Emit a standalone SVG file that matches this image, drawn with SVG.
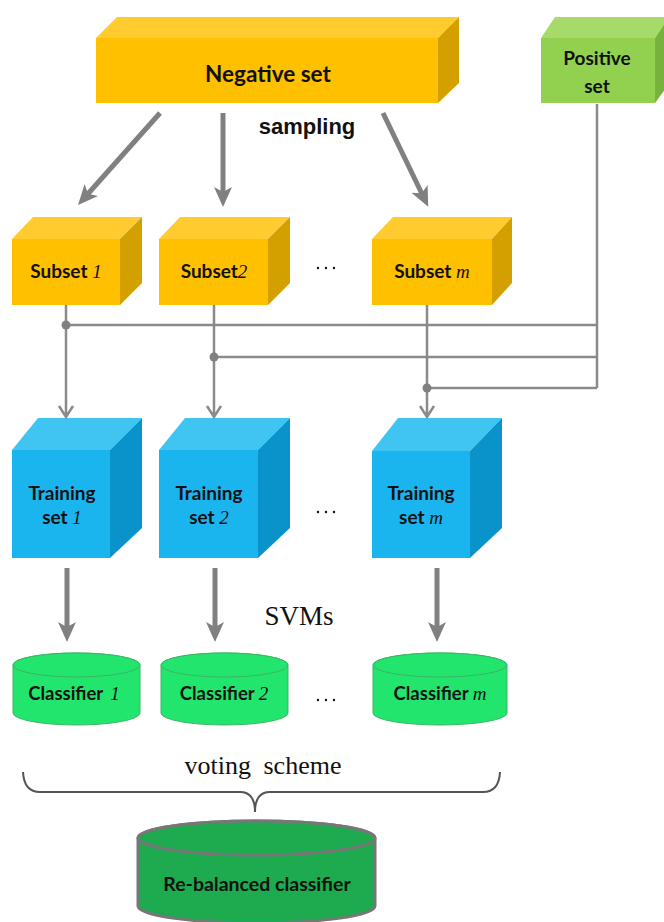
<svg xmlns="http://www.w3.org/2000/svg" width="664" height="922" viewBox="0 0 664 922">
  <style>
    .lbl { font-family: Lato, "Liberation Sans", sans-serif; font-weight: 700; fill: #111; text-anchor: middle; }
    .num { font-family: "Liberation Serif", serif; font-style: italic; font-weight: 400; }
    .serif { font-family: "Liberation Serif", serif; fill: #111; text-anchor: middle; }
    .o-front { fill: #FFC000; }
    .o-top { fill: #FFCB2E; }
    .o-side { fill: #D4A000; }
    .g-front { fill: #92D050; }
    .g-top { fill: #A6DB6C; }
    .g-side { fill: #77B23C; }
    .b-front { fill: #1AB4EE; }
    .b-top { fill: #40C4F2; }
    .b-side { fill: #0A93CB; }
    .cyl { fill: #22E56E; stroke: #3DB465; stroke-width: 1; }
    .thick { stroke: #808080; stroke-width: 5; fill: none; marker-end: url(#head); }
    .thin { stroke: #8A8A8A; stroke-width: 2.5; fill: none; }
    .dot { fill: #808080; }
    .ell { fill: #111; }
  </style>
  <defs>
    <marker id="head" viewBox="0 0 20 20" markerUnits="userSpaceOnUse" markerWidth="20" markerHeight="20" refX="8" refY="10" orient="auto">
      <path d="M0,1 L20,10 L0,19 L5,10 Z" fill="#808080"/>
    </marker>
  </defs>

  <!-- source sets -->
  <g id="negative-set">
    <polygon class="o-top" points="96,38 117,17 459,17 438,38"/>
    <polygon class="o-side" points="438,38 459,17 459,83 438,103"/>
    <rect class="o-front" x="96" y="38" width="342" height="65"/>
    <text class="lbl" x="268" y="82" font-size="22.5">Negative set</text>
  </g>
  <g id="positive-set">
    <polygon class="g-top" points="541,38 555,17 669,17 655,38"/>
    <polygon class="g-side" points="655,38 669,17 669,84 655,103"/>
    <rect class="g-front" x="541" y="38" width="114" height="65"/>
    <text class="lbl" x="597" y="65" font-size="19">Positive</text>
    <text class="lbl" x="597" y="93" font-size="19">set</text>
  </g>
  <text id="sampling" x="307" y="134" font-family="Liberation Sans, Arial, sans-serif" font-weight="700" font-size="22" fill="#111" text-anchor="middle">sampling</text>

  <!-- subsets -->
  <g id="subset-1">
    <polygon class="o-top" points="12,239 33,217 142,217 120,239"/>
    <polygon class="o-side" points="120,239 142,217 142,283 120,305"/>
    <rect class="o-front" x="12" y="239" width="108" height="66"/>
    <text class="lbl" x="66" y="278" font-size="19">Subset<tspan class="num" font-size="19"> 1</tspan></text>
  </g>
  <g id="subset-2">
    <polygon class="o-top" points="159,239 180,217 290,217 268,239"/>
    <polygon class="o-side" points="268,239 290,217 290,283 268,305"/>
    <rect class="o-front" x="159" y="239" width="109" height="66"/>
    <text class="lbl" x="214" y="278" font-size="19">Subset<tspan class="num" font-size="19">2</tspan></text>
  </g>
  <g id="subset-m">
    <polygon class="o-top" points="372,239 393,217 512,217 492,239"/>
    <polygon class="o-side" points="492,239 512,217 512,283 492,305"/>
    <rect class="o-front" x="372" y="239" width="120" height="66"/>
    <text class="lbl" x="432" y="278" font-size="19">Subset<tspan class="num" font-size="19"> m</tspan></text>
  </g>

  <!-- training sets -->
  <g id="training-1">
    <polygon class="b-top" points="12,450 38,418 142,418 110,450"/>
    <polygon class="b-side" points="110,450 142,418 142,528 110,558"/>
    <rect class="b-front" x="12" y="450" width="98" height="108"/>
    <text class="lbl" x="62" y="500" font-size="19">Training</text>
    <text class="lbl" x="62" y="524" font-size="19">set <tspan class="num" font-size="19">1</tspan></text>
  </g>
  <g id="training-2">
    <polygon class="b-top" points="159,450 185,418 290,418 258,450"/>
    <polygon class="b-side" points="258,450 290,418 290,528 258,558"/>
    <rect class="b-front" x="159" y="450" width="99" height="108"/>
    <text class="lbl" x="209" y="500" font-size="19">Training</text>
    <text class="lbl" x="209" y="524" font-size="19">set <tspan class="num" font-size="19">2</tspan></text>
  </g>
  <g id="training-m">
    <polygon class="b-top" points="372,451 398,418 502,418 470,451"/>
    <polygon class="b-side" points="470,451 502,418 502,528 470,558"/>
    <rect class="b-front" x="372" y="451" width="98" height="107"/>
    <text class="lbl" x="421" y="500" font-size="19">Training</text>
    <text class="lbl" x="421" y="524" font-size="19">set <tspan class="num" font-size="19">m</tspan></text>
  </g>

  <text id="svms" class="serif" x="299" y="625" font-size="27">SVMs</text>

  <!-- classifiers -->
  <g id="classifier-1">
    <path class="cyl" d="M13,665 A63.5,12 0 0 1 140,665 L140,713 A63.5,12 0 0 1 13,713 Z"/>
    <ellipse class="cyl" cx="76.5" cy="665" rx="63.5" ry="12"/>
    <text class="lbl" x="74" y="700" font-size="18.5">Classifier <tspan class="num" font-size="19" dx="3">1</tspan></text>
  </g>
  <g id="classifier-2">
    <path class="cyl" d="M161,665 A63.5,12 0 0 1 288,665 L288,713 A63.5,12 0 0 1 161,713 Z"/>
    <ellipse class="cyl" cx="224.5" cy="665" rx="63.5" ry="12"/>
    <text class="lbl" x="224" y="700" font-size="18.5">Classifier <tspan class="num" font-size="19">2</tspan></text>
  </g>
  <g id="classifier-m">
    <path class="cyl" d="M373,665 A67,12 0 0 1 507,665 L507,713 A67,12 0 0 1 373,713 Z"/>
    <ellipse class="cyl" cx="440" cy="665" rx="67" ry="12"/>
    <text class="lbl" x="440" y="700" font-size="18.5">Classifier <tspan class="num" font-size="19">m</tspan></text>
  </g>

  <text id="voting" class="serif" x="263" y="774" font-size="26" word-spacing="6">voting scheme</text>

  <g id="rebalanced-classifier">
    <path d="M138,838 A118.5,17 0 0 1 375,838 L375,906 A118.5,17 0 0 1 138,906 Z" fill="#1EAA4E" stroke="#777" stroke-width="3"/>
    <ellipse cx="256.5" cy="838" rx="118.5" ry="17" fill="#1EAA4E" stroke="#777" stroke-width="3"/>
    <text class="lbl" x="257" y="891" font-size="19.5">Re-balanced classifier</text>
  </g>

  <!-- ellipsis between columns -->
  <g id="ellipses">
    <circle class="ell" cx="318" cy="268" r="1.2"/><circle class="ell" cx="326" cy="268" r="1.2"/><circle class="ell" cx="334" cy="268" r="1.2"/>
    <circle class="ell" cx="318" cy="512" r="1.2"/><circle class="ell" cx="326" cy="512" r="1.2"/><circle class="ell" cx="334" cy="512" r="1.2"/>
    <circle class="ell" cx="318" cy="700" r="1.2"/><circle class="ell" cx="326" cy="700" r="1.2"/><circle class="ell" cx="334" cy="700" r="1.2"/>
  </g>

  <!-- connectors -->
  <g id="connectors">
    <line class="thick" x1="160" y1="113" x2="86" y2="196"/>
    <line class="thick" x1="223" y1="113" x2="223" y2="195"/>
    <line class="thick" x1="383" y1="113" x2="423" y2="196"/>

    <path class="thin" d="M597,104 V388"/>
    <path class="thin" d="M66,325 H597"/>
    <path class="thin" d="M214,357 H597"/>
    <path class="thin" d="M427,388 H597"/>
    <path class="thin" d="M66,305 V417 M59,406 L66,417 L73,406"/>
    <path class="thin" d="M214,305 V417 M207,406 L214,417 L221,406"/>
    <path class="thin" d="M427,305 V417 M420,406 L427,417 L434,406"/>
    <circle class="dot" cx="66" cy="325" r="4.5"/>
    <circle class="dot" cx="214" cy="357" r="4.5"/>
    <circle class="dot" cx="427" cy="388" r="4.5"/>

    <line class="thick" x1="67" y1="568" x2="67" y2="630"/>
    <line class="thick" x1="215" y1="568" x2="215" y2="630"/>
    <line class="thick" x1="437" y1="568" x2="437" y2="630"/>

    <path d="M23,772 Q24,792 40,792 H240 Q255,792 255,812 Q255,792 270,792 H483 Q499,792 500,772" fill="none" stroke="#555" stroke-width="2"/>
  </g>
</svg>
